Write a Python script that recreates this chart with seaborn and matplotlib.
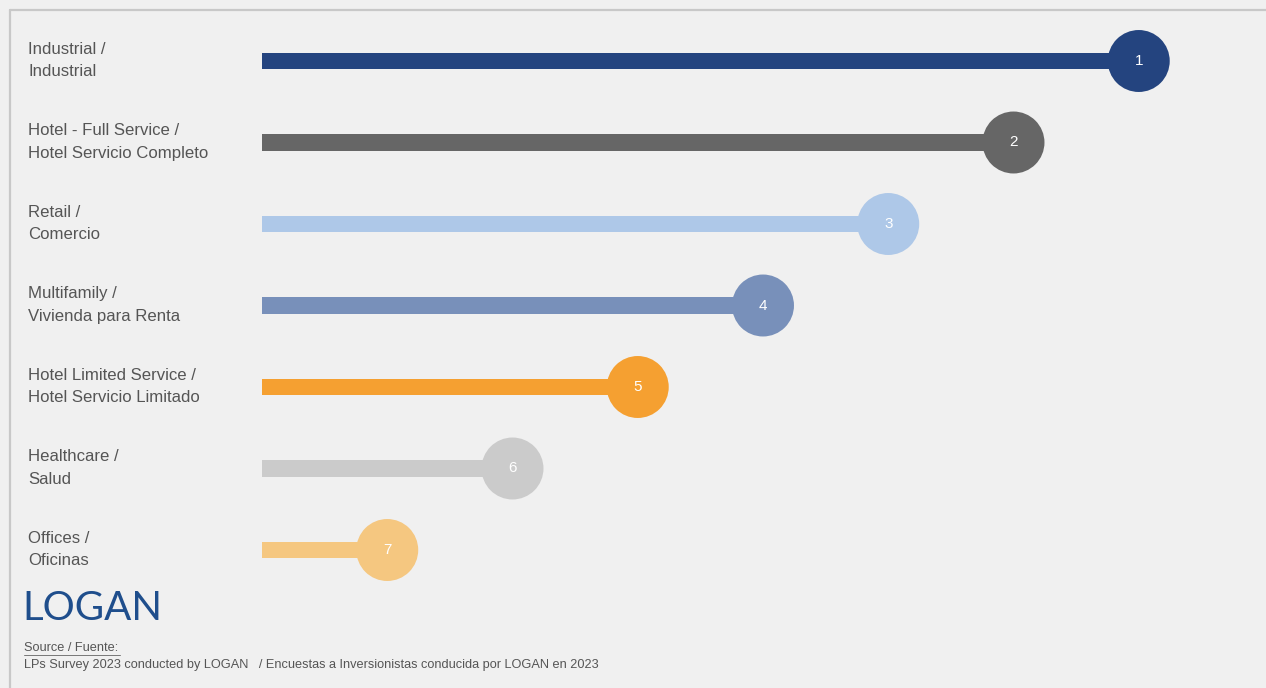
import matplotlib
matplotlib.use("Agg")
import matplotlib.pyplot as plt
from matplotlib.lines import Line2D
import seaborn as sns
import pandas as pd

categories = [
    "Industrial /\nIndustrial",
    "Hotel - Full Service /\nHotel Servicio Completo",
    "Retail /\nComercio",
    "Multifamily /\nVivienda para Renta",
    "Hotel Limited Service /\nHotel Servicio Limitado",
    "Healthcare /\nSalud",
    "Offices /\nOficinas",
]
ranks = [1, 2, 3, 4, 5, 6, 7]
scores = [7, 6, 5, 4, 3, 2, 1]
colors = ["#24447f", "#666666", "#aec8e8", "#7890ba", "#f5a031", "#cbcbcb", "#f5c780"]

df = pd.DataFrame({"cat": categories, "score": scores, "rank": ranks})
df["y"] = range(len(df))

sns.set_theme(style="white")
plt.rcParams["font.family"] = ["Liberation Sans", "DejaVu Sans"]

BG = "#f0f0f0"
fig = plt.figure(figsize=(12.66, 6.88), dpi=100, facecolor=BG)
ax = fig.add_axes([262 / 1266, 1 - 590.75 / 688, (1264 - 262) / 1266, (590.75 - 20.25) / 688])
ax.set_facecolor("none")

sns.barplot(data=df, x="score", y="cat", hue="cat", palette=colors, orient="h",
            width=0.2, legend=False, ax=ax, saturation=1, linewidth=0)
sns.scatterplot(data=df, x="score", y="y", hue="cat", palette=colors, s=1990,
                linewidth=0, legend=False, ax=ax, zorder=3)
for _, r in df.iterrows():
    ax.text(r["score"], r["y"], str(r["rank"]), color="white", fontsize=11,
            ha="center", va="center", zorder=4)

ax.set_xlim(0, 8)
ax.set_ylim(6.5, -0.5)
ax.set_xlabel("")
ax.set_ylabel("")
ax.set_xticks([])
ax.set_yticks([])
for s in ax.spines.values():
    s.set_visible(False)

# category labels
for i, c in enumerate(categories):
    yc = 1 - (60.5 + i * 81.5) / 688
    fig.text(28 / 1266, yc, c, ha="left", va="center", fontsize=12.1,
             color="#555555", linespacing=1.6)

# border lines
fig.add_artist(Line2D([10 / 1266, 1], [1 - 10 / 688, 1 - 10 / 688], color="#c8c8c8", lw=1.6,
                      transform=fig.transFigure))
fig.add_artist(Line2D([10 / 1266, 10 / 1266], [1 - 10 / 688, 0], color="#c8c8c8", lw=1.6,
                      transform=fig.transFigure))

# logo
fig.text(22 / 1266, 1 - 608 / 688, "LOGAN", ha="left", va="center", fontsize=29,
         color="#1f4e8c", family=["Lato", "DejaVu Sans"], fontweight="normal")

# source
fig.text(24 / 1266, 1 - 648 / 688, "Source / Fuente:", ha="left", va="center",
         fontsize=9.2, color="#555555")
fig.add_artist(Line2D([24 / 1266, 120 / 1266], [1 - 655 / 688, 1 - 655 / 688], color="#777777",
                      lw=0.7, transform=fig.transFigure))
fig.text(24 / 1266, 1 - 665 / 688,
         "LPs Survey 2023 conducted by LOGAN   / Encuestas a Inversionistas conducida por LOGAN en 2023",
         ha="left", va="center", fontsize=9.2, color="#555555")

fig.savefig("out.png", dpi=100, facecolor=BG)
